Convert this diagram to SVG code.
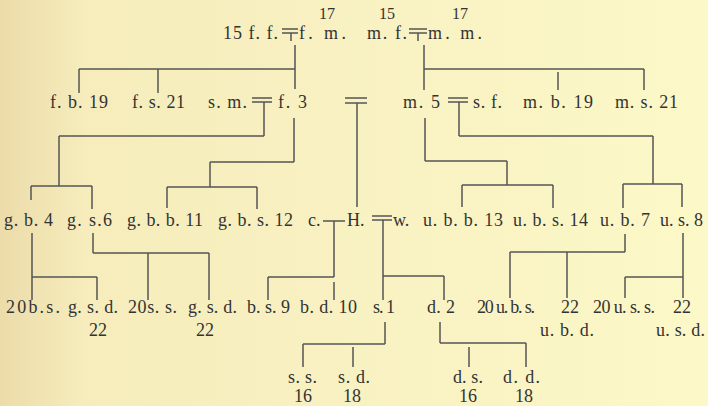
<svg xmlns="http://www.w3.org/2000/svg" width="708" height="406" viewBox="0 0 708 406">
<defs>
<linearGradient id="bg" x1="0" y1="0" x2="1" y2="0">
<stop offset="0" stop-color="#ecdcaa"/>
<stop offset="0.12" stop-color="#f6ecbc"/>
<stop offset="1" stop-color="#fcf8c8"/>
</linearGradient>
</defs>
<style>
text{font-family:"Liberation Serif","DejaVu Serif",serif;font-size:18px;fill:#333}
text.sup{font-size:16px}
.c line,.m line{stroke:#555;stroke-width:1.5;fill:none}
</style>
<rect width="708" height="406" fill="url(#bg)"/>

<g id="marriage-symbols" class="m">
<line x1="282" y1="29" x2="298" y2="29"/><line x1="282" y1="33" x2="298" y2="33"/><line x1="291" y1="33" x2="291" y2="41"/>
<line x1="409" y1="29" x2="427" y2="29"/><line x1="409" y1="33" x2="427" y2="33"/><line x1="418" y1="33" x2="418" y2="41"/>
<line x1="252" y1="98" x2="272" y2="98"/><line x1="252" y1="102" x2="272" y2="102"/>
<line x1="345" y1="98" x2="367" y2="98"/><line x1="345" y1="103" x2="367" y2="103"/>
<line x1="448" y1="98" x2="468" y2="98"/><line x1="448" y1="102" x2="468" y2="102"/>
<line x1="372" y1="216" x2="392" y2="216"/><line x1="372" y1="220" x2="392" y2="220"/>
<line x1="323" y1="221" x2="345" y2="221"/>
</g>

<g id="connectors" class="c">
<line x1="295" y1="45" x2="295" y2="89"/><line x1="79" y1="69" x2="295" y2="69"/>
<line x1="79" y1="69" x2="79" y2="93"/><line x1="158" y1="69" x2="158" y2="93"/>
<line x1="424" y1="45" x2="424" y2="90"/><line x1="424" y1="69" x2="644" y2="69"/>
<line x1="558" y1="72" x2="558" y2="90"/><line x1="644" y1="69" x2="644" y2="90"/>

<line x1="264" y1="102" x2="264" y2="136"/><line x1="59" y1="136" x2="264" y2="136"/>
<line x1="59" y1="136" x2="59" y2="186"/><line x1="31" y1="186" x2="92" y2="186"/>
<line x1="31" y1="186" x2="31" y2="200"/><line x1="92" y1="186" x2="92" y2="209"/>

<line x1="294" y1="118" x2="294" y2="162"/><line x1="210" y1="162" x2="294" y2="162"/>
<line x1="210" y1="162" x2="210" y2="187"/><line x1="167" y1="187" x2="257" y2="187"/>
<line x1="167" y1="187" x2="167" y2="208"/><line x1="257" y1="187" x2="257" y2="209"/>

<line x1="357" y1="103" x2="357" y2="207"/>

<line x1="459" y1="102" x2="459" y2="136"/><line x1="459" y1="136" x2="653" y2="136"/>
<line x1="653" y1="136" x2="653" y2="184"/><line x1="623" y1="184" x2="682" y2="184"/>
<line x1="623" y1="184" x2="623" y2="208"/><line x1="682" y1="184" x2="682" y2="207"/>

<line x1="425" y1="118" x2="425" y2="161"/><line x1="425" y1="161" x2="507" y2="161"/>
<line x1="507" y1="161" x2="507" y2="185"/><line x1="462" y1="185" x2="553" y2="185"/>
<line x1="462" y1="185" x2="462" y2="207"/><line x1="553" y1="185" x2="553" y2="208"/>

<line x1="334" y1="221" x2="334" y2="277"/><line x1="268" y1="277" x2="334" y2="277"/>
<line x1="268" y1="277" x2="268" y2="300"/><line x1="334" y1="282" x2="334" y2="300"/>

<line x1="383" y1="220" x2="383" y2="300"/><line x1="383" y1="276" x2="444" y2="276"/>
<line x1="444" y1="276" x2="444" y2="300"/>

<line x1="32" y1="233" x2="32" y2="300"/><line x1="32" y1="277" x2="97" y2="277"/>
<line x1="97" y1="277" x2="97" y2="300"/>

<line x1="93" y1="233" x2="93" y2="253"/><line x1="93" y1="253" x2="209" y2="253"/>
<line x1="148" y1="253" x2="148" y2="300"/><line x1="209" y1="253" x2="209" y2="300"/>

<line x1="625" y1="234" x2="625" y2="252"/><line x1="510" y1="252" x2="625" y2="252"/>
<line x1="510" y1="252" x2="510" y2="298"/><line x1="567" y1="252" x2="567" y2="298"/>

<line x1="683" y1="233" x2="683" y2="298"/><line x1="625" y1="277" x2="683" y2="277"/>
<line x1="625" y1="277" x2="625" y2="298"/>

<line x1="385" y1="322" x2="385" y2="344"/><line x1="303" y1="344" x2="385" y2="344"/>
<line x1="303" y1="344" x2="303" y2="367"/><line x1="353" y1="347" x2="353" y2="367"/>

<line x1="440" y1="322" x2="440" y2="343"/><line x1="440" y1="343" x2="526" y2="343"/>
<line x1="469" y1="347" x2="469" y2="367"/><line x1="526" y1="343" x2="526" y2="367"/>
</g>

<g id="gen1">
<text class="sup" x="319" y="19">17</text>
<text class="sup" x="379" y="19">15</text>
<text class="sup" x="452" y="19">17</text>
<text x="223" y="39" textLength="55" lengthAdjust="spacing">15 f. f.</text>
<text x="299" y="39" textLength="47" lengthAdjust="spacing">f. m.</text>
<text x="367" y="39" textLength="40" lengthAdjust="spacing">m. f.</text>
<text x="428" y="39" textLength="54" lengthAdjust="spacing">m. m.</text>
</g>

<g id="gen2">
<text x="50" y="108" textLength="58" lengthAdjust="spacing">f. b. 19</text>
<text x="132" y="108" textLength="53" lengthAdjust="spacing">f. s. 21</text>
<text x="208" y="108" textLength="39" lengthAdjust="spacing">s. m.</text>
<text x="278" y="108" textLength="29" lengthAdjust="spacing">f. 3</text>
<text x="403" y="108" textLength="37" lengthAdjust="spacing">m. 5</text>
<text x="473" y="108" textLength="29" lengthAdjust="spacing">s. f.</text>
<text x="523" y="108" textLength="70" lengthAdjust="spacing">m. b. 19</text>
<text x="615" y="108" textLength="63" lengthAdjust="spacing">m. s. 21</text>
</g>

<g id="gen3">
<text x="4" y="226" textLength="49" lengthAdjust="spacing">g. b. 4</text>
<text x="67" y="226" textLength="45" lengthAdjust="spacing">g. s.6</text>
<text x="127" y="226" textLength="76" lengthAdjust="spacing">g. b. b. 11</text>
<text x="218" y="226" textLength="75" lengthAdjust="spacing">g. b. s. 12</text>
<text x="308" y="226">c.</text>
<text x="347" y="226">H.</text>
<text x="393" y="226">w.</text>
<text x="423" y="226" textLength="80" lengthAdjust="spacing">u. b. b. 13</text>
<text x="513" y="226" textLength="75" lengthAdjust="spacing">u. b. s. 14</text>
<text x="600" y="226" textLength="50" lengthAdjust="spacing">u. b. 7</text>
<text x="660" y="226" textLength="43" lengthAdjust="spacing">u. s. 8</text>
</g>

<g id="gen4">
<text x="6" y="313" textLength="54" lengthAdjust="spacing">20b.s.</text>
<text x="68" y="313" textLength="50" lengthAdjust="spacing">g. s. d.</text>
<text x="89" y="336">22</text>
<text x="128" y="313" textLength="49" lengthAdjust="spacing">20s. s.</text>
<text x="188" y="313" textLength="49" lengthAdjust="spacing">g. s. d.</text>
<text x="196" y="336">22</text>
<text x="247" y="313" textLength="43" lengthAdjust="spacing">b. s. 9</text>
<text x="300" y="313" textLength="57" lengthAdjust="spacing">b. d. 10</text>
<text x="373" y="313" textLength="22" lengthAdjust="spacing">s. 1</text>
<text x="427" y="313" textLength="28" lengthAdjust="spacing">d. 2</text>
<text x="477" y="313" textLength="58" lengthAdjust="spacing">20 u. b. s.</text>
<text x="561" y="313">22</text>
<text x="540" y="336" textLength="54" lengthAdjust="spacing">u. b. d.</text>
<text x="593" y="313" textLength="62" lengthAdjust="spacing">20 u. s. s.</text>
<text x="673" y="313">22</text>
<text x="656" y="336" textLength="49" lengthAdjust="spacing">u. s. d.</text>
</g>

<g id="gen5">
<text x="288" y="383" textLength="29" lengthAdjust="spacing">s. s.</text>
<text x="294" y="402">16</text>
<text x="338" y="383" textLength="32" lengthAdjust="spacing">s. d.</text>
<text x="343" y="402">18</text>
<text x="453" y="383" textLength="30" lengthAdjust="spacing">d. s.</text>
<text x="459" y="402">16</text>
<text x="503" y="383" textLength="37" lengthAdjust="spacing">d. d.</text>
<text x="515" y="402">18</text>
</g>
</svg>
